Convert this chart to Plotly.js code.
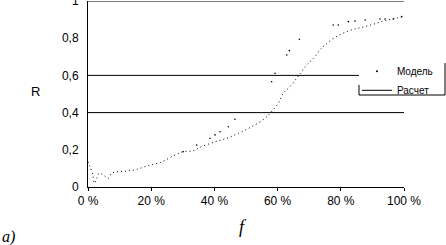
<!DOCTYPE html>
<html>
<head>
<meta charset="utf-8">
<script src="https://cdn.plot.ly/plotly-3.0.1.min.js"></script>
<style>html,body{margin:0;padding:0;background:#fff;}#chart{width:446px;height:245px;}</style>
</head>
<body>
<div id="chart"></div>
<script>
// Расчет (calculated curve): f in %, R
const calcF = [0, 0.6, 1.5, 2, 2.75, 3.6, 4.8, 6.4, 7.5, 9.6, 12.2, 15.4, 19.6, 22.8, 26.5, 30.2, 33.3, 35.4, 39.7, 43.9, 47.6, 51.8, 56.0, 57.6, 60.2, 61.8, 63.9, 66.0, 67.6, 69.2, 71.8, 73.4, 75.0, 77.8, 82.4, 86.3, 90.3, 94.0, 98.2, 100];
const calcR = [0.136, 0.11, 0.065, 0.02, 0.047, 0.074, 0.065, 0.047, 0.074, 0.082, 0.086, 0.095, 0.118, 0.131, 0.163, 0.19, 0.195, 0.213, 0.24, 0.262, 0.289, 0.324, 0.369, 0.396, 0.45, 0.504, 0.539, 0.584, 0.62, 0.656, 0.70, 0.737, 0.763, 0.80, 0.839, 0.857, 0.875, 0.895, 0.91, 0.918];
// Модель (model points)
const modelF = [30.1, 34.4, 38.6, 40.2, 41.8, 44.4, 46.5, 58.1, 59.2, 62.9, 63.7, 66.9, 77.6, 79.2, 82.4, 84.5, 87.7, 92.4, 94.0, 96.6, 99.3];
const modelR = [0.19, 0.226, 0.262, 0.28, 0.297, 0.324, 0.364, 0.566, 0.611, 0.71, 0.733, 0.794, 0.871, 0.871, 0.889, 0.892, 0.898, 0.903, 0.903, 0.903, 0.916];
const yTicks = [0, 0.2, 0.4, 0.6, 0.8, 1];
const xTicks = [0, 20, 40, 60, 80, 100];
const gridLevels = [0.4, 0.6, 1];
const seriesNames = ['Модель', 'Расчет'];

const traces = [
  {x: modelF, y: modelR, name: seriesNames[0], type: 'scatter', mode: 'markers',
   marker: {color: '#000', size: 1.6}},
  {x: calcF, y: calcR, name: seriesNames[1], type: 'scatter', mode: 'lines', showlegend: false,
   line: {color: '#000', width: 1, dash: '1px,3px', shape: 'spline'}},
  // legend entry for Расчет drawn with a solid line (no data drawn)
  {x: [null], y: [null], name: seriesNames[1], type: 'scatter', mode: 'lines',
   line: {color: '#000', width: 1}, hoverinfo: 'skip'}
];

const shapes = gridLevels.map(v => ({type: 'line', xref: 'x', yref: 'y', x0: 0, x1: 100, y0: v, y1: v,
  line: {color: '#000', width: 1}, layer: 'below'}));
// legend background and frame
shapes.push({type: 'rect', xref: 'paper', yref: 'paper', x0: 0.8576, x1: 1.1297, y0: 0.4946, y1: 0.6667,
  fillcolor: '#fff', line: {width: 0}, layer: 'above'});
shapes.push({type: 'line', xref: 'paper', yref: 'paper', x0: 1.1297, x1: 1.1297, y0: 0.4946, y1: 0.6667, line: {color: '#000', width: 1}, layer: 'above'});
shapes.push({type: 'line', xref: 'paper', yref: 'paper', x0: 0.8576, x1: 1.1297, y0: 0.4946, y1: 0.4946, line: {color: '#000', width: 1}, layer: 'above'});
shapes.push({type: 'line', xref: 'paper', yref: 'paper', x0: 0.8576, x1: 0.8576, y0: 0.4946, y1: 0.5484, line: {color: '#000', width: 1}, layer: 'above'});

const layout = {
  width: 446, height: 245,
  margin: {l: 88, r: 42, t: 1, b: 58, pad: 0},
  paper_bgcolor: '#fff', plot_bgcolor: '#fff',
  separators: ', ',
  font: {family: 'Liberation Sans, Arial, sans-serif', size: 12, color: '#000'},
  showlegend: true,
  legend: {x: 0.851, y: 0.70, xanchor: 'left', yanchor: 'top', bgcolor: 'rgba(0,0,0,0)',
    borderwidth: 0, font: {size: 10}, itemwidth: 30, tracegroupgap: 0},
  xaxis: {range: [0, 100], tickvals: xTicks, ticktext: xTicks.map(v => v + ' %'),
    showgrid: false, zeroline: false, showline: true, linecolor: '#000', linewidth: 1,
    ticks: 'outside', ticklen: 3, tickcolor: '#000', ticklabeloverflow: 'allow', fixedrange: true},
  yaxis: {range: [0, 1], tickvals: yTicks, showgrid: false, zeroline: false,
    showline: true, linecolor: '#000', linewidth: 1, ticks: '', ticklabelstandoff: 6,
    ticklabeloverflow: 'allow', fixedrange: true},
  shapes: shapes,
  annotations: [
    {text: 'R', xref: 'paper', yref: 'paper', x: -0.1677, y: 0.516, showarrow: false,
     xanchor: 'center', yanchor: 'middle', font: {size: 13}},
    {text: 'f', xref: 'paper', yref: 'paper', x: 0.49, y: -0.215, showarrow: false,
     xanchor: 'center', yanchor: 'middle', font: {family: 'Liberation Serif, serif', size: 18, style: 'italic'}},
    {text: 'a)', xref: 'paper', yref: 'paper', x: -0.278, y: -0.269, showarrow: false,
     xanchor: 'left', yanchor: 'middle', font: {family: 'Liberation Serif, serif', size: 16, style: 'italic'}}
  ]
};

Plotly.newPlot('chart', traces, layout, {displayModeBar: false, staticPlot: true});
</script>
</body>
</html>
